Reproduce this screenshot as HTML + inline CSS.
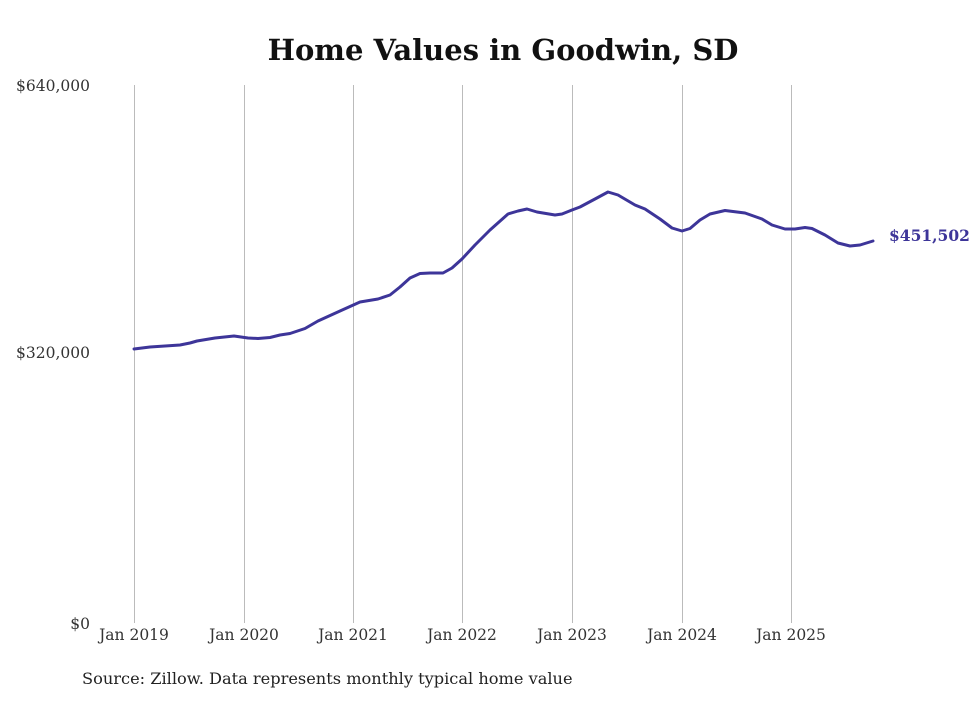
<!DOCTYPE html>
<html><head><meta charset="utf-8"><style>
body{margin:0;background:#fff;}
svg text{font-family:"DejaVu Serif","Liberation Serif",serif;}
</style></head><body>
<svg width="980" height="699" xmlns="http://www.w3.org/2000/svg">
<rect width="980" height="699" fill="#fff"/>
<text x="503" y="60" text-anchor="middle" font-size="29" font-weight="bold" fill="#111">Home Values in Goodwin, SD</text>
<g stroke="#bbb" stroke-width="1">
<line x1="134.5" y1="85" x2="134.5" y2="623"/>
<line x1="244.5" y1="85" x2="244.5" y2="623"/>
<line x1="353.5" y1="85" x2="353.5" y2="623"/>
<line x1="462.5" y1="85" x2="462.5" y2="623"/>
<line x1="572.5" y1="85" x2="572.5" y2="623"/>
<line x1="682.5" y1="85" x2="682.5" y2="623"/>
<line x1="791.5" y1="85" x2="791.5" y2="623"/>
</g>
<g font-size="15.5" fill="#333">
<text x="90" y="91" text-anchor="end">$640,000</text>
<text x="90" y="358" text-anchor="end">$320,000</text>
<text x="90" y="629" text-anchor="end">$0</text>
<g text-anchor="middle">
<text x="134" y="640">Jan 2019</text>
<text x="244" y="640">Jan 2020</text>
<text x="353" y="640">Jan 2021</text>
<text x="462" y="640">Jan 2022</text>
<text x="572" y="640">Jan 2023</text>
<text x="682" y="640">Jan 2024</text>
<text x="791" y="640">Jan 2025</text>
</g>
<text x="82" y="684" fill="#222" font-size="16.2">Source: Zillow. Data represents monthly typical home value</text>
</g>
<polyline fill="none" stroke="#3d3599" stroke-width="3" stroke-linejoin="round" stroke-linecap="round"
points="134,349 150,347 165,346 180,345 190,343 197,341 215,338 234,336 248,338 258,338.5 270,337.5 280,335 290,333.5 305,328.5 318,321 340,311 360,302 378,299 390,295 400,287 410,278 420,273.5 430,273 443,273 452,268 462,259 475,245 490,230 508,214 518,211 527,209 537,212 555,215 562,214 572,210 580,207 595,199 608,192 618,195 635,205 645,209 660,219 672,228 682,231 690,228.5 700,220 710,214 725,210.5 745,213 762,219 772,225 785,229 795,229 805,227.5 812,228.5 825,235 838,243 850,246 860,245 873,241"/>
<text x="889" y="241" font-size="15.5" font-weight="bold" fill="#3d3599">$451,502</text>
</svg>
</body></html>
